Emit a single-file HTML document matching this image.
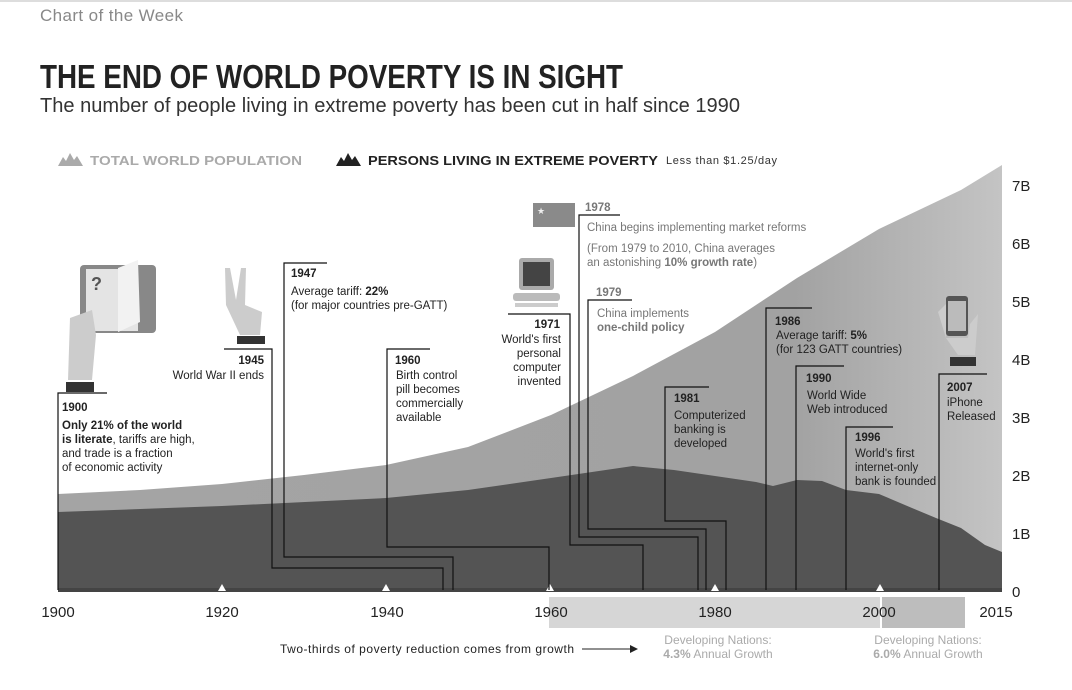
<!DOCTYPE html>
<html><head><meta charset="utf-8"><style>
body{margin:0;background:#fff}
svg{display:block;font-family:"Liberation Sans",sans-serif}
</style></head><body>
<svg width="1072" height="690" viewBox="0 0 1072 690" xmlns="http://www.w3.org/2000/svg">
<defs>
<linearGradient id="pg" x1="0" y1="0" x2="1" y2="0">
<stop offset="0" stop-color="#a4a4a4"/><stop offset="0.78" stop-color="#a2a2a2"/><stop offset="1" stop-color="#c4c4c4"/>
</linearGradient>
</defs>
<rect width="1072" height="690" fill="#fff"/>
<line x1="0" y1="1" x2="1072" y2="1" stroke="#bbb"/>
<text x="40" y="21" font-size="17" fill="#888" textLength="143">Chart of the Week</text>
<text x="40" y="88" font-size="33" font-weight="bold" fill="#222" textLength="583" lengthAdjust="spacingAndGlyphs">THE END OF WORLD POVERTY IS IN SIGHT</text>
<text x="40" y="112" font-size="20" fill="#333" textLength="700" lengthAdjust="spacingAndGlyphs">The number of people living in extreme poverty has been cut in half since 1990</text>
<!-- legend -->
<path d="M58,166 L63,157 L66,161 L70,153 L74,160 L77,156 L83,166Z" fill="#aaa"/>
<text x="90" y="165" font-size="13" font-weight="bold" fill="#aaa" textLength="212" lengthAdjust="spacingAndGlyphs">TOTAL WORLD POPULATION</text>
<path d="M336,166 L341,157 L344,161 L348,153 L352,160 L355,156 L361,166Z" fill="#222"/>
<text x="368" y="165" font-size="13" font-weight="bold" fill="#222" textLength="290" lengthAdjust="spacingAndGlyphs">PERSONS LIVING IN EXTREME POVERTY</text>
<text x="666" y="164" font-size="11" fill="#333" textLength="111">Less than $1.25/day</text>
<!-- areas -->
<path d="M58,494 L140,490 L222,484 L304,475 L386,465 L468,447 L551,415 L633,376 L715,332 L797,278 L879,229 L961,190 L1002,165 L1002,590 L58,590Z" fill="url(#pg)"/>
<path d="M58,512 L222,506 L386,498 L468,490 L551,478 L633,466 L674,470 L715,476 L756,482 L773,486 L797,480 L822,481 L846,490 L879,494 L912,508 L936,518 L961,528 L985,545 L1002,552 L1002,590 L58,590Z" fill="#545454"/>
<rect x="58" y="588" width="944" height="4" fill="#444"/>
<rect x="58" y="593" width="944" height="2" fill="#fff"/>
<g fill="#fff">
<path d="M218,591 L222,584 L226,591Z"/><path d="M382,591 L386,584 L390,591Z"/><path d="M546,591 L550,584 L554,591Z"/><path d="M711,591 L715,584 L719,591Z"/><path d="M876,591 L880,584 L884,591Z"/>
</g>
<!-- y labels -->
<g font-size="15" fill="#222">
<text x="1012" y="191">7B</text><text x="1012" y="249">6B</text><text x="1012" y="307">5B</text><text x="1012" y="365">4B</text><text x="1012" y="423">3B</text><text x="1012" y="481">2B</text><text x="1012" y="539">1B</text><text x="1012" y="597">0</text>
</g>
<!-- bottom bands -->
<rect x="549" y="597" width="331" height="31" fill="#d6d6d6"/>
<rect x="882" y="597" width="83" height="31" fill="#bdbdbd"/>
<g font-size="15" fill="#222" text-anchor="middle">
<text x="58" y="617">1900</text><text x="222" y="617">1920</text><text x="387" y="617">1940</text><text x="551" y="617">1960</text><text x="715" y="617">1980</text><text x="879" y="617">2000</text><text x="996" y="617">2015</text>
</g>
<text x="280" y="653" font-size="12" fill="#222" textLength="294">Two-thirds of poverty reduction comes from growth</text>
<line x1="582" y1="649" x2="632" y2="649" stroke="#222"/><path d="M630,645 L638,649 L630,653Z" fill="#222"/>
<g font-size="12" fill="#aaa" text-anchor="middle">
<text x="718" y="644">Developing Nations:</text><text x="718" y="658"><tspan font-weight="bold">4.3%</tspan> Annual Growth</text>
<text x="928" y="644">Developing Nations:</text><text x="928" y="658"><tspan font-weight="bold">6.0%</tspan> Annual Growth</text>
</g>
<!-- annotation lines -->
<g stroke="#111" stroke-width="1.2" fill="none">
<path d="M107,393 H58 V590"/>
<path d="M224,349 H272 V568 H443 V590"/>
<path d="M327,263 H284 V557 H453 V590"/>
<path d="M430,349 H387 V547 H549 V590"/>
<path d="M508,314 H570 V545 H643 V590"/>
<path d="M620,215 H579 V537 H698 V590"/>
<path d="M632,300 H588 V529 H706 V590"/>
<path d="M709,387 H665 V521 H726 V590"/>
<path d="M812,308 H766 V590"/>
<path d="M844,366 H796 V590"/>
<path d="M893,427 H846 V590"/>
<path d="M987,374 H939 V590"/>
</g>
<!-- annotation texts -->
<g font-size="11.5" fill="#222">
<text x="62" y="411" font-weight="bold">1900</text>
<text x="62" y="429"><tspan font-weight="bold">Only 21% of the world</tspan></text>
<text x="62" y="443"><tspan font-weight="bold">is literate</tspan>, tariffs are high,</text>
<text x="62" y="457">and trade is a fraction</text>
<text x="62" y="471">of economic activity</text>
<text x="264" y="364" font-weight="bold" text-anchor="end">1945</text>
<text x="264" y="379" text-anchor="end">World War II ends</text>
<text x="291" y="277" font-weight="bold">1947</text>
<text x="291" y="295">Average tariff: <tspan font-weight="bold">22%</tspan></text>
<text x="291" y="309">(for major countries pre-GATT)</text>
<text x="395" y="364" font-weight="bold">1960</text>
<text x="396" y="379">Birth control</text>
<text x="396" y="393">pill becomes</text>
<text x="396" y="407">commercially</text>
<text x="396" y="421">available</text>
<text x="560" y="328" font-weight="bold" text-anchor="end">1971</text>
<text x="561" y="343" text-anchor="end">World's first</text>
<text x="561" y="357" text-anchor="end">personal</text>
<text x="561" y="371" text-anchor="end">computer</text>
<text x="561" y="385" text-anchor="end">invented</text>
<g fill="#777">
<text x="585" y="211" font-weight="bold">1978</text>
<text x="587" y="231">China begins implementing market reforms</text>
<text x="587" y="252">(From 1979 to 2010, China averages</text>
<text x="587" y="266">an astonishing <tspan font-weight="bold">10% growth rate</tspan>)</text>
<text x="596" y="296" font-weight="bold">1979</text>
<text x="597" y="317">China implements</text>
<text x="597" y="331" font-weight="bold">one-child policy</text>
</g>
<text x="674" y="402" font-weight="bold">1981</text>
<text x="674" y="419">Computerized</text>
<text x="674" y="433">banking is</text>
<text x="674" y="447">developed</text>
<text x="775" y="325" font-weight="bold">1986</text>
<text x="776" y="339">Average tariff: <tspan font-weight="bold">5%</tspan></text>
<text x="776" y="353">(for 123 GATT countries)</text>
<text x="806" y="382" font-weight="bold">1990</text>
<text x="807" y="399">World Wide</text>
<text x="807" y="413">Web introduced</text>
<text x="855" y="441" font-weight="bold">1996</text>
<text x="855" y="457">World's first</text>
<text x="855" y="471">internet-only</text>
<text x="855" y="485">bank is founded</text>
<text x="947" y="391" font-weight="bold">2007</text>
<text x="947" y="406">iPhone</text>
<text x="947" y="420">Released</text>
</g>
<!-- icons -->
<rect x="533" y="203" width="42" height="24" fill="#8a8a8a"/><text x="537" y="214" font-size="9" fill="#eee">★</text>
<rect x="519" y="258" width="35" height="32" rx="3" fill="#aaa"/><rect x="523" y="262" width="27" height="24" fill="#444"/>
<rect x="513" y="293" width="47" height="8" rx="3" fill="#bbb"/><rect x="515" y="303" width="43" height="4" fill="#ccc"/>
<rect x="80" y="265" width="76" height="68" rx="4" fill="#888"/><rect x="86" y="269" width="52" height="62" fill="#e4e4e4"/><path d="M118,268 L138,260 L140,322 L118,332Z" fill="#f2f2f2"/>
<text x="91" y="290" font-size="18" font-weight="bold" fill="#555">?</text>
<path d="M70,318 L92,310 L96,335 L92,380 L68,380 Z" fill="#ccc"/><rect x="66" y="382" width="28" height="10" fill="#333"/>
<path d="M225,268 L230,268 L236,300 L241,268 L246,268 L245,305 L262,312 L260,335 L240,335 L226,305Z" fill="#ccc"/><rect x="237" y="336" width="28" height="8" fill="#333"/>
<rect x="946" y="296" width="22" height="40" rx="3" fill="#555"/><rect x="948" y="301" width="18" height="30" fill="#bbb"/>
<path d="M938,312 L946,304 L946,338 L958,355 L975,355 L978,314 L970,324 L968,338 L946,338Z" fill="#ccc"/><rect x="950" y="357" width="26" height="9" fill="#333"/>
</svg>
</body></html>
